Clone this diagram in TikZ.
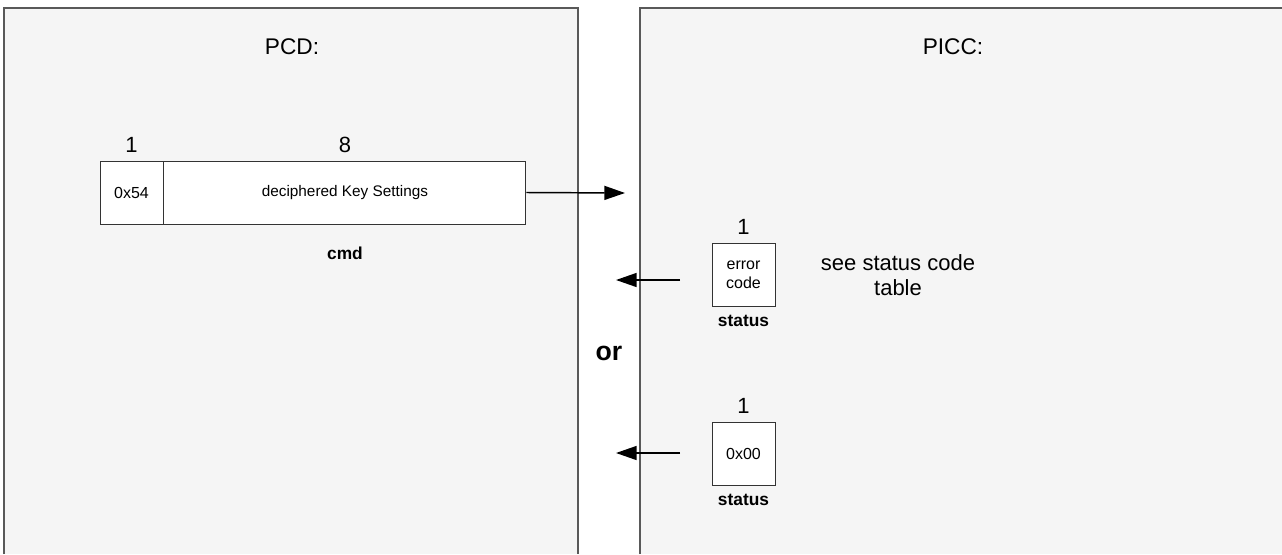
\documentclass[tikz,border=0pt]{standalone}
\usepackage{fontspec}
\setmainfont{Liberation Sans}
\usetikzlibrary{positioning,arrows.meta}

\newdimen\px \px=0.75pt

\tikzset{
  panel/.style={draw=black!65, line width=1.1pt, fill=black!4},
  title/.style={font=\fontsize{17}{20}\selectfont},
  field/.style={draw=black!80, fill=white, line width=0.7pt, inner sep=0pt,
                minimum height=63\px, font=\fontsize{12}{14.5}\selectfont},
  bytes/.style={font=\fontsize{16.5}{18}\selectfont, inner sep=1pt},
  caption/.style={font=\bfseries\fontsize{13}{15}\selectfont},
  msg/.style={-{Triangle[length=15.5pt,width=10.5pt]}, line width=1.1pt},
}

\begin{document}
\begin{tikzpicture}[x=0.75pt, y=-0.75pt]
\useasboundingbox (0,0) rectangle (1282,554);

% the two sides
\draw[panel] (4,554) -- (4,8) -- (578,8) -- (578,554);
\draw[panel] (640,554) -- (640,8) -- (1290,8) -- (1290,554);
\node[title] (pcd) at (292,47) {PCD:};
\node[title] (picc) at (953,47) {PICC:};

% command
\node[field, minimum width=63\px] (op) at (131.5,192.5) {0x54};
\node[field, minimum width=362\px, right=0pt of op, font=\fontsize{11.5}{14}\selectfont] (data) {deciphered Key Settings};
\node[bytes, above=5pt of op] (oplen) {1};
\node[bytes, above=5pt of data] (datalen) {8};
\node[caption, below=13pt of data] (cmd) {cmd};

\coordinate (req) at (625,193);
\draw[msg] (data.east) -- (req);

% response: error
\node[field, minimum width=63\px, align=center] (err) at (743.5,274.5) {error\\code};
\node[bytes, above=5pt of err] (errlen) {1};
\node[caption, below=3pt of err] (errcap) {status};
\node[align=center, font=\fontsize{16.5}{19}\selectfont] (note) at (898,275) {see status code\\table};

\coordinate (errfrom) at (680,280);
\coordinate (errto) at (616,280);
\draw[msg] (errfrom) -- (errto);

\node[font=\bfseries\fontsize{20}{22}\selectfont] (or) at (609,353) {or};

% response: ok
\node[field, minimum width=63\px] (ok) at (743.5,453.5) {0x00};
\node[bytes, above=5pt of ok] (oklen) {1};
\node[caption, below=3pt of ok] (okcap) {status};

\coordinate (okfrom) at (680,453);
\coordinate (okto) at (616,453);
\draw[msg] (okfrom) -- (okto);
\end{tikzpicture}
\end{document}
